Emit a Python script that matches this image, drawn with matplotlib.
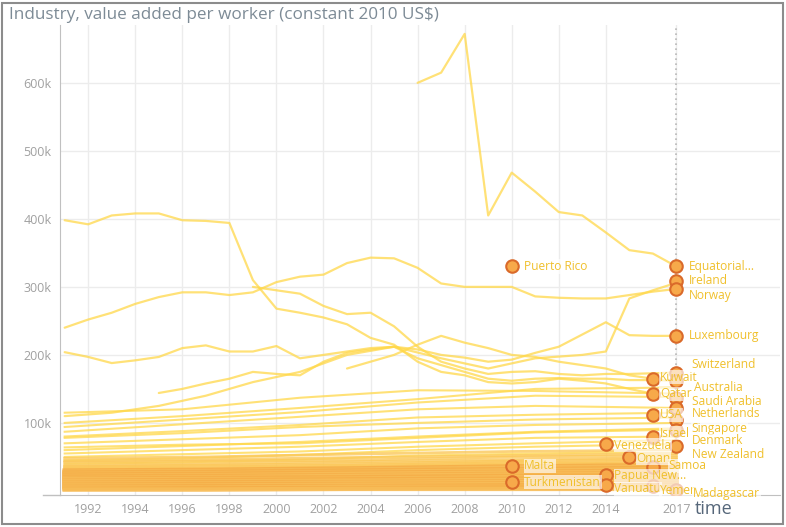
import matplotlib.pyplot as plt
from matplotlib.patches import Rectangle

plt.rcParams['font.family'] = ['Open Sans', 'DejaVu Sans']

# values in thousands of constant 2010 US$
eq_guinea_years = [2006, 2007, 2008, 2009, 2010, 2011, 2012, 2013, 2014, 2015, 2016, 2017]
eq_guinea_vals = [600, 615, 672, 405, 468, 440, 410, 405, 380, 354, 349, 330]

early_high_years = list(range(1991, 2017))
early_high_vals = [398, 392, 405, 408, 408, 398, 397, 394, 310, 268, 262, 255, 245,
                   225, 215, 190, 175, 170, 160, 158, 160, 165, 162, 158, 150, 143]

norway_years = list(range(1991, 2018))
norway_vals = [240, 252, 262, 275, 285, 292, 292, 288, 292, 307, 315, 318, 335, 343,
               342, 328, 305, 300, 300, 300, 286, 284, 283, 283, 288, 293, 297]

swiss_years = list(range(1999, 2018))
swiss_vals = [300, 295, 290, 272, 260, 262, 242, 212, 190, 180, 172, 175, 176, 172,
              170, 172, 172, 173, 174]

lux_years = list(range(1991, 2018))
lux_vals = [204, 197, 188, 192, 197, 210, 214, 205, 205, 213, 195, 200, 205, 210,
            212, 208, 200, 196, 190, 193, 203, 212, 230, 248, 229, 228, 228]

ireland_years = [1991, 1993, 1995, 1997, 1999, 2001, 2003, 2005, 2007, 2009, 2011, 2013, 2014, 2015, 2016, 2017]
ireland_vals = [110, 115, 125, 140, 160, 175, 200, 212, 195, 180, 195, 200, 205, 283, 295, 306]

kuwait_years = [2003, 2005, 2006, 2007, 2008, 2009, 2010, 2011, 2012, 2013, 2014, 2015, 2016]
kuwait_vals = [180, 200, 215, 228, 218, 210, 200, 197, 190, 185, 180, 170, 165]

australia_years = list(range(1995, 2018))
australia_vals = [144, 150, 158, 165, 175, 172, 170, 190, 203, 208, 212, 195, 185,
                  175, 165, 162, 165, 166, 165, 165, 163, 163, 162]

# middle band, values at these years
mid_years = [1991, 1996, 2001, 2006, 2011, 2017]
mid_a = [94, 105, 116, 130, 140, 138]
mid_b = [87, 98, 109, 120, 125, 122]
mid_c = [80, 88, 97, 108, 112, 115]
mid_d = [78, 85, 94, 100, 105, 108]
mid_e = [70, 76, 82, 92, 97, 100]
mid_f = [60, 66, 72, 80, 87, 92]
mid_g = [55, 60, 65, 72, 78, 80]
mid_h = [50, 54, 58, 65, 70, 75]
mid_i = [45, 48, 53, 60, 65, 69]
mid_j = [40, 42, 46, 52, 55, 58]
mid_k = [64, 68, 70, 78, 86, 90]
mid_l = [100, 110, 122, 135, 150, 152]
mid_m = [115, 120, 137, 148, 147, 143]

# lower, dense band
low_years = [1991, 1997, 2003, 2010, 2017]
low_upper = [[48, 50, 54, 58, 60], [44, 46, 49, 52, 55], [42, 44, 45, 50, 52],
             [38, 40, 43, 46, 49], [36, 38, 40, 44, 47], [35, 36, 38, 42, 44],
             [33, 34, 36, 40, 42], [31, 32, 35, 38, 40]]
low_middle = [[30, 31, 33, 36, 38], [28, 29, 31, 34, 36], [27, 28, 30, 32, 34],
              [25, 26, 28, 30, 32], [24, 25, 27, 28, 30], [22, 23, 25, 27, 28],
              [21, 22, 23, 25, 26], [19, 20, 22, 24, 25], [18, 19, 20, 22, 23]]
low_bottom = [[17, 17, 18, 20, 21], [15, 16, 17, 18, 19], [14, 14, 15, 16, 17],
              [12, 13, 13, 14, 15], [11, 11, 12, 13, 13], [9, 10, 10, 11, 12],
              [8, 8, 9, 10, 10], [6, 7, 7, 8, 9], [5, 5, 6, 6, 7], [3, 4, 4, 5, 5],
              [2, 2, 3, 3, 3]]

# labelled points: name, year, value
label_names = ['Puerto Rico', 'Equatorial...', 'Ireland', 'Norway', 'Luxembourg',
               'Switzerland', 'Kuwait', 'Australia', 'Qatar', 'Saudi Arabia',
               'Netherlands', 'USA', 'Singapore', 'Israel', 'Denmark', 'Venezuela',
               'New Zealand', 'Oman', 'Samoa', 'Malta', 'Turkmenistan',
               'Papua New...', 'Vanuatu', 'Yemen', 'Madagascar']
label_years = [2010, 2017, 2017, 2017, 2017, 2017, 2016, 2017, 2016, 2017, 2017, 2016,
               2017, 2016, 2017, 2014, 2017, 2015, 2016, 2010, 2010, 2014, 2014, 2016, 2017]
label_vals = [330, 330, 308, 297, 228, 174, 165, 162, 143, 136, 122, 112, 104, 79,
              90, 69, 66, 50, 35, 37, 13, 24, 9, 7, 2]
# label nudges in points (x, y)
label_dx = [9, 9, 9, 9, 9, 11, 5, 13, 5, 11, 11, 5, 11, 5, 11, 6, 11, 5, 11, 9, 9, 6, 6, 5, 12]
label_dy = [0, 0, 1, -5, 0, 6, 1, -5, 0, -2, -4, 0, -6, 3, -8, -1, -6, -1, 1, 0, 0, -1, -3, -3, -3]

x_ticks = [1992, 1994, 1996, 1998, 2000, 2002, 2004, 2006, 2008, 2010, 2012, 2014, 2017]
y_ticks = [100, 200, 300, 400, 500, 600]

fig = plt.figure(figsize=(7.86, 5.27), dpi=100)
ax = fig.add_axes([0.0763, 0.0607, 0.916, 0.8918])

yellow = '#FFD84A'

for yrs, vals in [(eq_guinea_years, eq_guinea_vals), (early_high_years, early_high_vals),
                  (norway_years, norway_vals), (swiss_years, swiss_vals),
                  (lux_years, lux_vals), (ireland_years, ireland_vals),
                  (kuwait_years, kuwait_vals), (australia_years, australia_vals)]:
    ax.plot(yrs, vals, color=yellow, lw=1.6, alpha=0.75, solid_capstyle='round')

for vals in [mid_a, mid_b, mid_c, mid_d, mid_e, mid_f, mid_g, mid_h, mid_i,
             mid_j, mid_k, mid_l, mid_m]:
    ax.plot(mid_years, vals, color=yellow, lw=1.5, alpha=0.75)

for vals in low_upper:
    ax.plot(low_years, vals, color='#FBC85A', lw=2, alpha=0.8)
for i, vals in enumerate(low_middle + low_bottom):
    ax.plot(low_years, vals, color=['#F5AE48', '#F8BD58'][i % 2], lw=3.2, alpha=0.9)

# current time marker
ax.axvline(2017, color='#b8b8b8', lw=1.2, ls=(0, (1, 2)), zorder=1)

for name, yr, val, dx, dy in zip(label_names, label_years, label_vals, label_dx, label_dy):
    ax.plot(yr, val, 'o', ms=9, mfc='#F7A94A', mec='#DA6A2A', mew=1.5, zorder=5)
    ax.annotate(name, (yr, val), xytext=(dx, dy), textcoords='offset points',
                va='center', ha='left', fontsize=8.6, color='#F0C02C', zorder=6,
                bbox=dict(boxstyle='square,pad=0.05', fc='white', ec='none', alpha=0.65))

ax.set_xlim(1990.8, 2021.4)
ax.set_ylim(-6, 685)
ax.set_xticks(x_ticks)
ax.set_xticklabels([str(t) for t in x_ticks])
ax.set_yticks(y_ticks)
ax.set_yticklabels([f'{t}k' for t in y_ticks])
ax.tick_params(length=0, labelsize=9, labelcolor='#a0a0a0', pad=6)
ax.grid(True, color='#ececec', lw=1)
ax.set_axisbelow(True)
for s in ['top', 'right']:
    ax.spines[s].set_visible(False)
ax.spines['left'].set_color('#c0c0c0')
ax.spines['bottom'].set_color('#c0c0c0')
ax.plot([-0.024, 0], [0, 0], transform=ax.transAxes, color='#c0c0c0', lw=1, clip_on=False)

fig.text(0.011, 0.971, 'Industry, value added per worker (constant 2010 US$)',
         fontsize=12.3, color='#7d8b96', va='center', ha='left')
fig.text(0.884, 0.034, 'time', fontsize=13, color='#56677a', va='center', ha='left')

fig.patches.append(Rectangle((0.003, 0.005), 0.993, 0.99, transform=fig.transFigure,
                             fill=False, ec='#8c8c8c', lw=1.5))

plt.savefig('out.png', dpi=100)
